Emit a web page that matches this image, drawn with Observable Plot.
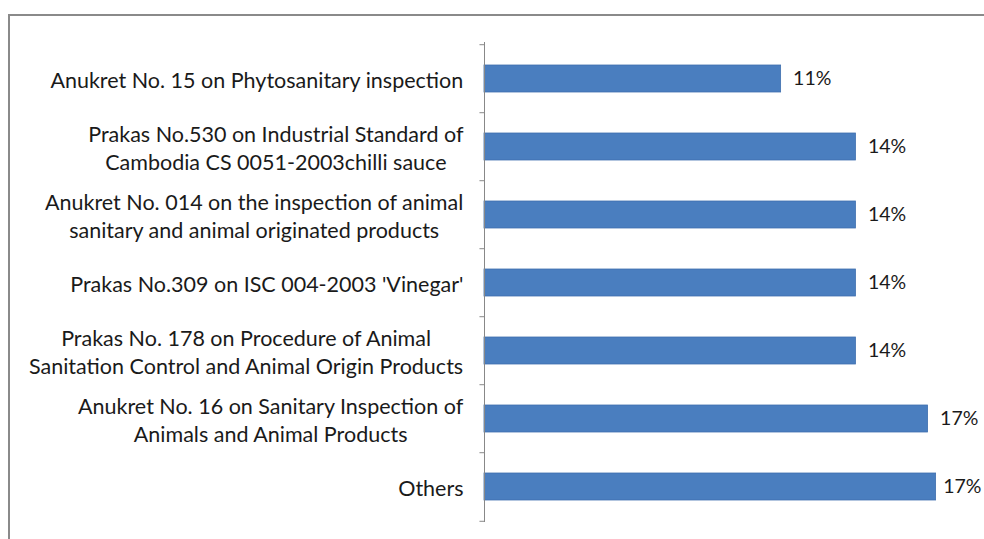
<!DOCTYPE html>
<html>
<head>
<meta charset="utf-8">
<script src="https://cdn.jsdelivr.net/npm/d3@7"></script>
<script src="https://cdn.jsdelivr.net/npm/@observablehq/plot@0.6"></script>
<style>
  html, body { margin: 0; padding: 0; background: #fff; }
  #wrap { position: relative; width: 984px; height: 539px; overflow: hidden; }
  #border { position: absolute; left: 8px; top: 14px; width: 990px; height: 540px;
            border-left: 2px solid #8a8a8a; border-top: 2px solid #8a8a8a; pointer-events: none; }
  #chart { position: absolute; left: 0; top: 0; }
</style>
</head>
<body>
<div id="wrap"><div id="chart"></div><div id="border"></div></div>
<script>
const categories = [
  "Anukret No. 15 on Phytosanitary inspection",
  "Prakas No.530 on Industrial Standard of\nCambodia CS 0051-2003chilli sauce",
  "Anukret No. 014 on the inspection of animal\nsanitary and animal originated products",
  "Prakas No.309 on ISC 004-2003 'Vinegar'",
  "Prakas No. 178 on Procedure of Animal\nSanitation Control and Animal Origin Products",
  "Anukret No. 16 on Sanitary Inspection of\nAnimals and Animal Products",
  "Others"
];
const values = [11.1, 13.9, 13.9, 13.9, 13.9, 16.6, 16.9];
const valueLabels = ["11%", "14%", "14%", "14%", "14%", "17%", "17%"];

const data = categories.map((c, i) => ({cat: c, value: values[i], label: valueLabels[i]}));

const W = 984, H = 539, mt = 42, mb = 17, ml = 484, mr = 19;
const xMax = 18;
const step = (H - mt - mb) / categories.length;
const fontFamily = "Lato";
const labelSize = 21.5, valueSize = 19.5;

const ctx = document.createElement("canvas").getContext("2d");
ctx.font = `${labelSize}px ${fontFamily}`;
const blockWidths = categories.map(c => Math.max(...c.split("\n").map(l => ctx.measureText(l).width)));
ctx.font = `${valueSize}px ${fontFamily}`;
const xScale = d3.scaleLinear([0, xMax], [ml, W - mr]);
// keep value labels inside the picture: reduce the gap when the label would run off the edge
const valueDx = data.map(d => Math.min(12, W - 3 - xScale(d.value) - ctx.measureText(d.label).width));

const labelMarks = data.map((d, i) =>
  Plot.text([d], {x: 0, y: "cat", text: "cat", textAnchor: "middle", dx: -21 - blockWidths[i] / 2,
                  fontSize: labelSize, lineHeight: 1.3, fill: "#1a1a1a"}));
const valueMarks = data.map((d, i) =>
  Plot.text([d], {x: "value", y: "cat", text: "label", textAnchor: "start", dx: valueDx[i],
                  fontSize: valueSize, fill: "#1a1a1a"}));

const plot = Plot.plot({
  width: W,
  height: H,
  marginLeft: ml,
  marginRight: mr,
  marginTop: mt,
  marginBottom: mb,
  style: {fontFamily: fontFamily, background: "transparent"},
  x: {domain: [0, xMax], axis: null},
  y: {domain: categories, paddingInner: 0.61, paddingOuter: 0.305, axis: null},
  marks: [
    Plot.barX(data, {x: "value", y: "cat", fill: "#4a7ebf", stroke: "#3f6fae", strokeWidth: 0.8}),
    Plot.ruleX([0], {stroke: "#888", strokeWidth: 1}),
    Plot.ruleY(data, {y: "cat", x1: -0.17, x2: 0, dy: -step / 2, stroke: "#888"}),
    Plot.ruleY([data[data.length - 1]], {y: "cat", x1: -0.17, x2: 0, dy: step / 2, stroke: "#888"}),
    ...labelMarks,
    ...valueMarks
  ]
});
document.getElementById("chart").appendChild(plot);
</script>
</body>
</html>
